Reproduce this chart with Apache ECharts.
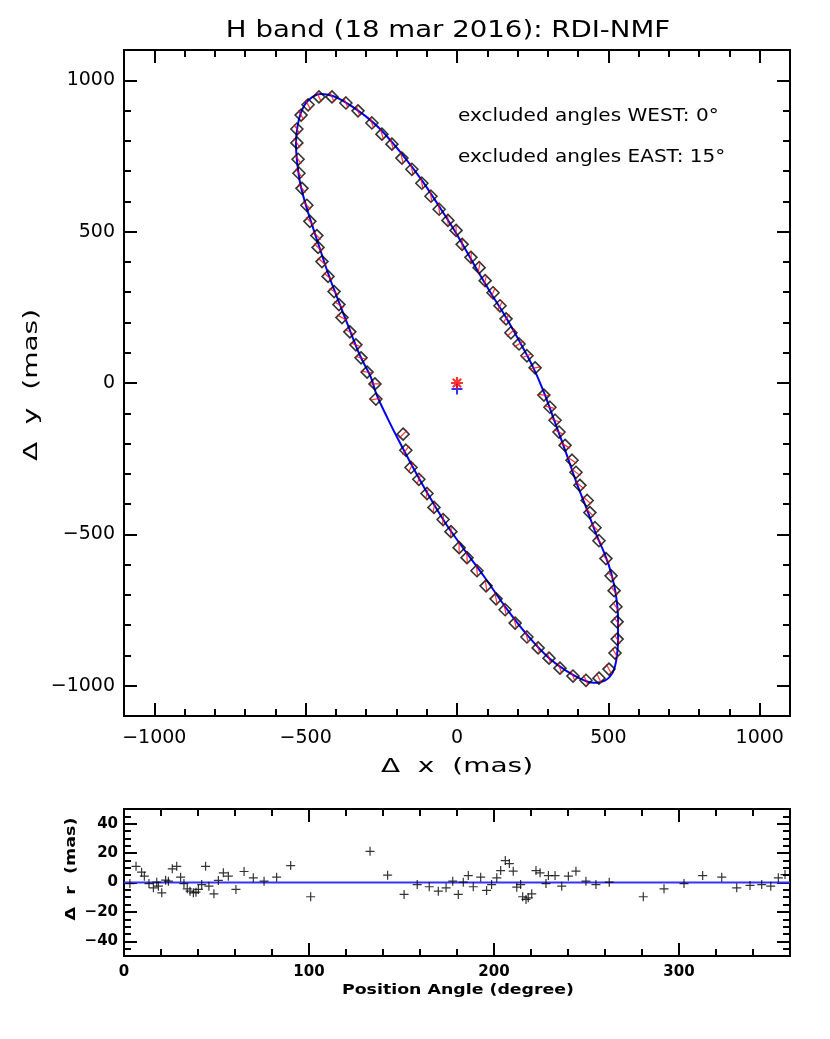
<!DOCTYPE html>
<html>
<head>
<meta charset="utf-8">
<title>H band RDI-NMF</title>
<script src="https://cdn.jsdelivr.net/npm/echarts@6/dist/echarts.min.js"></script>
<style>
  html, body { margin: 0; padding: 0; background: #fff; }
  #chart { width: 830px; height: 1039px; }
</style>
</head>
<body>
<div id="chart"></div>
<script>
// measured disk points (mas)
var diskX = [-367, -413, -456, -492, -515, -529, -529, -525, -522, -512, -496, -486, -463, -459, -446, -426, -406, -390, -380, -354,
  -334, -317, -297, -271, -268, -178, -169, -152, -126, -99, -76, -46, -20, 7, 33, 66, 96, 129, 159, 192,
  231, 268, 304, 340, 383, 426, 469, 502, 522, 529, 529, 525, 519, 509, 492, 469, 456, 439, 430, 406,
  393, 380, 357, 337, 324, 307, 287, 258, 231, 205, 178, 162, 142, 119, 93, 73, 46, 17, -3, -30,
  -59, -86, -116, -149, -182, -215, -248, -281, -327]
var diskY = [925, 945, 945, 919, 885, 839, 793, 739, 693, 643, 587, 534, 487, 448, 401, 352, 302, 259, 216, 169,
  126, 83, 36, -3, -53, -169, -222, -279, -318, -365, -411, -451, -491, -544, -577, -620, -670, -713, -749, -793,
  -839, -875, -909, -942, -968, -982, -975, -945, -892, -846, -789, -739, -686, -637, -580, -521, -478, -428, -388, -338,
  -295, -255, -206, -162, -123, -80, -40, 50, 90, 129, 166, 212, 255, 298, 338, 381, 415, 458, 504, 537,
  574, 617, 660, 706, 743, 789, 822, 859, 899]

// ellipse fit (mas)
var fitX = [-300, -360, -410, -450, -490, -515, -528, -532, -528, -518, -500, -478, -455, -425, -395, -360, -320, -285, -265, -230,
  -195, -150, -100, -40, 20, 90, 160, 230, 300, 360, 410, 450, 490, 515, 527, 532, 532, 525, 510, 490,
  460, 430, 395, 360, 320, 285, 250, 205, 160, 110, 60, 0, -60, -120, -185, -250, -300]
var fitY = [880, 922, 948, 955, 935, 895, 840, 790, 730, 660, 590, 520, 450, 360, 280, 190, 90, 20, -40, -115,
  -185, -270, -360, -460, -545, -640, -740, -830, -905, -950, -978, -990, -982, -955, -910, -850, -780, -700, -630, -570,
  -500, -420, -330, -230, -120, -25, 55, 140, 220, 300, 385, 490, 585, 675, 760, 835, 880]

var starPos = [0, 0]
var centerPos = [0, -20]

// residuals vs position angle
var paDeg = [3.2, 6.5, 9.5, 11, 13.5, 15.9, 17.7, 18.6, 20.4, 22.5, 24, 26.1, 28.5, 30.6, 32.4, 34.2, 35.7, 37.5, 38.9, 40.2,
  42, 44.1, 45.9, 48.6, 51, 53.7, 56.4, 60.5, 64.9, 69.9, 75.7, 82.5, 90.1, 100.9, 133, 142.5, 151.4, 158.5, 165, 169.9,
  174.1, 177.7, 180.7, 183.4, 186.1, 188.8, 192.8, 196, 198.7, 201.5, 203.6, 206.1, 208.3, 210.4, 212.3, 214.4, 215.5, 217.3, 218.5, 220.4,
  222.7, 224.9, 228.1, 229.4, 233, 236.6, 240.2, 244.3, 249.7, 255.1, 262.3, 280.7, 291.9, 302.7, 312.8, 323.1, 331.2, 338.4, 344.7, 349.6,
  353.7, 357.3]
var deltaR = [-0.7, 11, 7, 4.3, -0.7, -3.6, 0.2, -2.5, -7, 1.6, 0.9, 9.3, 11, 3.6, -0.7, -4.3, -5.9, -7, -6.6, -4.7,
  -1.4, 11, -2.5, -7.7, 1.4, 6.6, 4.3, -4.7, 7.5, 3.2, 0.9, 3.6, 11.5, -9.7, 21.2, 5, -8.1, -1.4, -2.9, -5.9,
  -3.6, 0.9, -8.1, 0.2, 4.7, -2.9, 3.6, -5.4, -1.4, 3.2, 8.1, 14.9, 12.9, 7.7, -3.2, -1.4, -9.7, -11.5, -10.4, -7.7,
  8.1, 6.6, -0.7, 4.7, 4.7, -2.5, 4.3, 7.7, 0.9, -1.4, 0.2, -9.7, -4.3, -0.7, 4.7, 3.6, -3.6, -2, -1.4, -2.5,
  3.2, 5.4]
var zeroX = [0, 360]
var zeroY = [0, 0]

var mainTicks = [-1000, -500, 0, 500, 1000]
var mainMinor = [-1100, -900, -800, -700, -600, -400, -300, -200, -100, 100, 200, 300, 400, 600, 700, 800, 900, 1100]
var paTicks = [0, 100, 200, 300]
var paMinor = [20, 40, 60, 80, 120, 140, 160, 180, 220, 240, 260, 280, 320, 340, 360]
var drTicks = [-40, -20, 0, 20, 40]
var drMinor = [-45, -35, -30, -25, -15, -10, -5, 5, 10, 15, 25, 30, 35, 45]

var FONT = 'DejaVu Sans'
var fmt = function (v) { return String(v).replace('-', '\u2212') }

function axisSet(kind, grid, min, max, major, minor, opts) {
  var sides = kind === 'x' ? ['bottom', 'top'] : ['left', 'right']
  var out = []
  sides.forEach(function (side, si) {
    [major, minor].forEach(function (vals, mi) {
      out.push({
        type: 'value', gridIndex: grid, position: side, min: min, max: max,
        axisLine: { show: true, onZero: false, lineStyle: { color: '#000', width: 2 } },
        axisTick: { show: true, inside: true, length: mi === 0 ? opts.big : opts.small, customValues: vals,
          lineStyle: { color: '#000', width: 2 } },
        axisLabel: { show: si === 0 && mi === 0, customValues: vals, formatter: fmt,
          color: '#000', fontFamily: FONT, fontSize: opts.fs, fontWeight: opts.fw, margin: opts.margin },
        splitLine: { show: false }
      })
    })
  })
  return out
}

var xAxes = axisSet('x', 0, -1100, 1100, mainTicks, mainMinor, { big: 13, small: 7, fs: 19, fw: 'normal', margin: 13 })
  .concat(axisSet('x', 1, 0, 360, paTicks, paMinor, { big: 13, small: 7, fs: 15, fw: 'bold', margin: 9 }))
var yAxes = axisSet('y', 0, -1100, 1100, mainTicks, mainMinor, { big: 13, small: 7, fs: 19, fw: 'normal', margin: 9 })
  .concat(axisSet('y', 1, -50, 50, drTicks, drMinor, { big: 13, small: 7, fs: 15, fw: 'bold', margin: 6 }))

var diskData = diskX.map(function (x, i) { return [x, diskY[i]] })
var fitData = fitX.map(function (x, i) { return [x, fitY[i]] })
var resData = paDeg.map(function (p, i) { return [p, deltaR[i]] })
var zeroData = zeroX.map(function (x, i) { return [x, zeroY[i]] })

function label(text, x, y, font, sx, rot, align) {
  return {
    type: 'text', x: x, y: y, scaleX: sx, rotation: rot || 0,
    style: { text: text, font: font, fill: '#000', align: align || 'center', verticalAlign: 'middle' }
  }
}

var chart = echarts.init(document.getElementById('chart'), null, { renderer: 'canvas' })
chart.setOption({
  animation: false,
  backgroundColor: '#fff',
  grid: [
    { left: 124, top: 50, width: 666, height: 666 },
    { left: 124, top: 809, width: 666, height: 147 }
  ],
  xAxis: xAxes,
  yAxis: yAxes,
  graphic: [
    label('H band (18 mar 2016): RDI-NMF', 448, 31, '23px "DejaVu Sans"', 1.2),
    label('\u0394  x  (mas)', 457, 767, '20px "DejaVu Sans"', 1.4),
    label('\u0394  y  (mas)', 32, 385, '20px "DejaVu Sans"', 1.4, Math.PI / 2),
    label('excluded angles WEST: 0\u00b0', 458, 117, '17px "DejaVu Sans"', 1.18, 0, 'left'),
    label('excluded angles EAST: 15\u00b0', 458, 158, '17px "DejaVu Sans"', 1.18, 0, 'left'),
    label('Position Angle (degree)', 458, 990, 'bold 14px "DejaVu Sans"', 1.24),
    label('\u0394  r  (mas)', 71, 869, 'bold 14px "DejaVu Sans"', 1.25, Math.PI / 2)
  ],
  series: [
    {
      name: 'fit', type: 'line', xAxisIndex: 0, yAxisIndex: 0, data: fitData,
      smooth: 0.4, showSymbol: false, lineStyle: { color: '#0000ff', width: 2 }, z: 2
    },
    {
      name: 'disk', type: 'scatter', xAxisIndex: 0, yAxisIndex: 0, data: diskData,
      symbol: 'diamond', symbolSize: [12, 12],
      itemStyle: { color: 'rgba(0,0,0,0)', borderColor: '#000', borderWidth: 1.6 }, z: 3
    },
    {
      name: 'errors', type: 'scatter', xAxisIndex: 0, yAxisIndex: 0, data: diskData,
      symbol: 'rect', symbolSize: [1.2, 11],
      symbolRotate: function (v) { return Math.atan2(v[1], v[0]) * 180 / Math.PI - 90 },
      itemStyle: { color: '#ff0000' }, z: 4
    },
    {
      name: 'star', type: 'scatter', xAxisIndex: 0, yAxisIndex: 0, data: [starPos],
      symbol: 'path://M0,5L10,5M5,0L5,10M1.5,1.5L8.5,8.5M8.5,1.5L1.5,8.5', symbolSize: 12,
      itemStyle: { color: 'rgba(0,0,0,0)', borderColor: '#ff0000', borderWidth: 2.2 }, z: 5
    },
    {
      name: 'center', type: 'scatter', xAxisIndex: 0, yAxisIndex: 0, data: [centerPos],
      symbol: 'path://M0,5L10,5M5,0L5,10', symbolSize: 11,
      itemStyle: { color: 'rgba(0,0,0,0)', borderColor: '#0000ff', borderWidth: 2 }, z: 4
    },
    {
      name: 'zero', type: 'line', xAxisIndex: 4, yAxisIndex: 4, data: zeroData,
      showSymbol: false, lineStyle: { color: '#3333ff', width: 2 }, z: 2
    },
    {
      name: 'residuals', type: 'scatter', xAxisIndex: 4, yAxisIndex: 4, data: resData,
      symbol: 'path://M0,5L10,5M5,0L5,10', symbolSize: 9,
      itemStyle: { color: 'rgba(0,0,0,0)', borderColor: '#000', borderWidth: 1.2 }, z: 3
    }
  ]
})
</script>
</body>
</html>
